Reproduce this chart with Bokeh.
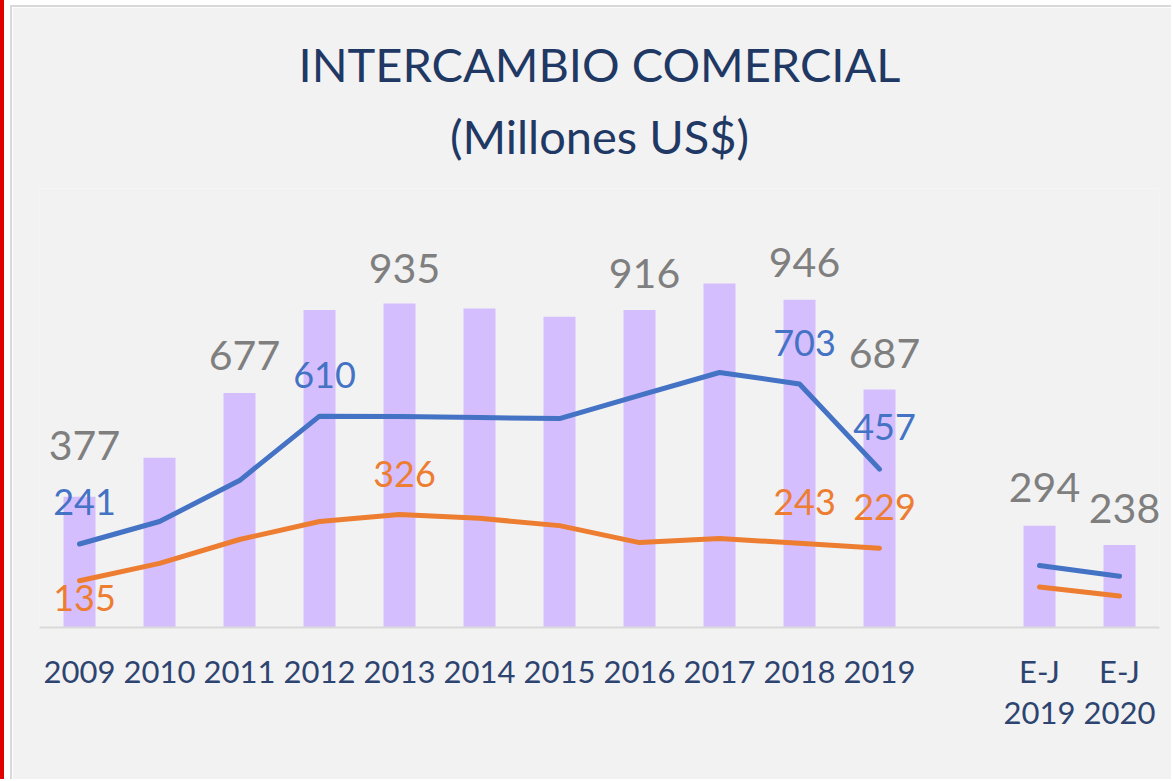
from bokeh.plotting import figure
from bokeh.models import Range1d, Title, ColumnDataSource, LinearAxis, FixedTicker
from bokeh.layouts import column
from bokeh.core.properties import value
from bokeh.embed import file_html
from bokeh.resources import INLINE

# ---------------- data ----------------
# one slot per category; " " is an empty spacer slot
categories = ["2009", "2010", "2011", "2012", "2013", "2014", "2015",
              "2016", "2017", "2018", "2019", " ", "E-J 2019", "E-J 2020"]
tick_row1 = ["2009", "2010", "2011", "2012", "2013", "2014", "2015",
             "2016", "2017", "2018", "2019", "", "E-J", "E-J"]
tick_row2 = ["", "", "", "", "", "", "", "", "", "", "", "", "2019", "2020"]

bar_cats = ["2009", "2010", "2011", "2012", "2013", "2014", "2015",
            "2016", "2017", "2018", "2019", "E-J 2019", "E-J 2020"]
total = [377, 490, 677, 916, 935, 921, 897, 916, 993, 946, 687, 294, 238]

annual_cats = ["2009", "2010", "2011", "2012", "2013", "2014", "2015",
               "2016", "2017", "2018", "2019"]
blue_annual = [241, 306, 424, 610, 609, 606, 603, 670, 736, 703, 457]
orange_annual = [135, 185, 254, 306, 326, 315, 294, 245, 257, 243, 229]

ej_cats = ["E-J 2019", "E-J 2020"]
blue_ej = [179, 148]
orange_ej = [117, 91]

# labelled points
total_lbl_cats = ["2009", "2011", "2013", "2016", "2018", "2019", "E-J 2019", "E-J 2020"]
total_lbl_vals = [377, 677, 935, 916, 946, 687, 294, 238]
blue_lbl_cats = ["2009", "2012", "2018", "2019"]
blue_lbl_vals = [241, 610, 703, 457]
orange_lbl_cats = ["2009", "2013", "2018", "2019"]
orange_lbl_vals = [135, 326, 243, 229]

# label offsets (pixels) - layout only
total_lbl_dy = [-51, -37, -35, -37, -37, -36, -38, -37]
blue_lbl_dy = [-42, -41, -41, -42]
orange_lbl_dy = [17, -41, -41, -41]

# ---------------- style ----------------
BG = "#f2f2f2"
BAR = "#d5befd"
BLUE = "#4472c4"
ORANGE = "#ed7d31"
GRAY = "#7f7f7f"
NAVY = "#1f3864"
AXIS_TXT = "#2e4470"
FONT = "Lato"


def pos(cats):
    return [categories.index(c) for c in cats]


slots = [i for i, c in enumerate(categories) if c.strip()]

p = figure(width=1161, height=774, x_range=Range1d(-0.5, len(categories) - 0.5),
           y_range=Range1d(0, 1267), output_backend="svg", toolbar_location=None,
           title=None, min_border_left=27, min_border_right=14,
           min_border_top=181, min_border_bottom=154, x_axis_location=None)
p.background_fill_color = BG
p.border_fill_color = BG
p.outline_line_color = None
p.grid.visible = False
p.yaxis.visible = False
p.styles = {"border-left": "2px solid #d9d9d9", "border-top": "2px solid #d9d9d9"}

row1 = {i: tick_row1[i] for i in slots}
row2 = {i: tick_row2[i] for i in slots}

xa = LinearAxis(ticker=FixedTicker(ticks=slots, minor_ticks=[]),
                axis_line_color="#d9d9d9", axis_line_width=2,
                major_tick_line_color=None, minor_tick_line_color=None,
                major_label_text_font=FONT, major_label_text_font_size="31px",
                major_label_text_color=AXIS_TXT, major_label_standoff=18,
                major_label_overrides=row1)
xa2 = LinearAxis(ticker=FixedTicker(ticks=slots, minor_ticks=[]),
                 axis_line_color=None, major_tick_line_color=None,
                 minor_tick_line_color=None, major_label_text_font=FONT,
                 major_label_text_font_size="31px", major_label_text_color=AXIS_TXT,
                 major_label_standoff=3, major_label_overrides=row2)
p.add_layout(xa, "below")
p.add_layout(xa2, "below")

p.add_layout(Title(text="(Millones US$)", align="center", text_font=FONT,
                   text_font_size="47px", text_font_style="normal",
                   text_color=NAVY, standoff=50), "above")
p.add_layout(Title(text="INTERCAMBIO COMERCIAL", align="center", text_font=FONT,
                   text_font_size="47px", text_font_style="normal",
                   text_color=NAVY, standoff=-23), "above")

p.vbar(x=pos(bar_cats), top=total, width=0.4, fill_color=BAR, line_color=None)

for cats, vals, col in [(annual_cats, blue_annual, BLUE), (ej_cats, blue_ej, BLUE),
                        (annual_cats, orange_annual, ORANGE), (ej_cats, orange_ej, ORANGE)]:
    p.line(x=pos(cats), y=vals, line_color=col, line_width=5,
           line_cap="round", line_join="round")

for cats, vals, dy, col, size in [
        (total_lbl_cats, total_lbl_vals, total_lbl_dy, GRAY, "41px"),
        (blue_lbl_cats, blue_lbl_vals, blue_lbl_dy, BLUE, "36px"),
        (orange_lbl_cats, orange_lbl_vals, orange_lbl_dy, ORANGE, "36px")]:
    src = ColumnDataSource(dict(x=pos(cats), y=vals, t=[str(v) for v in vals], dy=dy))
    p.text(x="x", y="y", text="t", y_offset="dy", x_offset=5, source=src,
           text_font=value(FONT), text_font_size=size, text_color=col,
           text_align="center", text_baseline="middle")

layout = column(p, styles={"border-left": "4px solid #e00000", "padding-left": "6px",
                           "padding-top": "5px", "background-color": "white"})

open("out.html", "w").write(file_html(layout, INLINE))
